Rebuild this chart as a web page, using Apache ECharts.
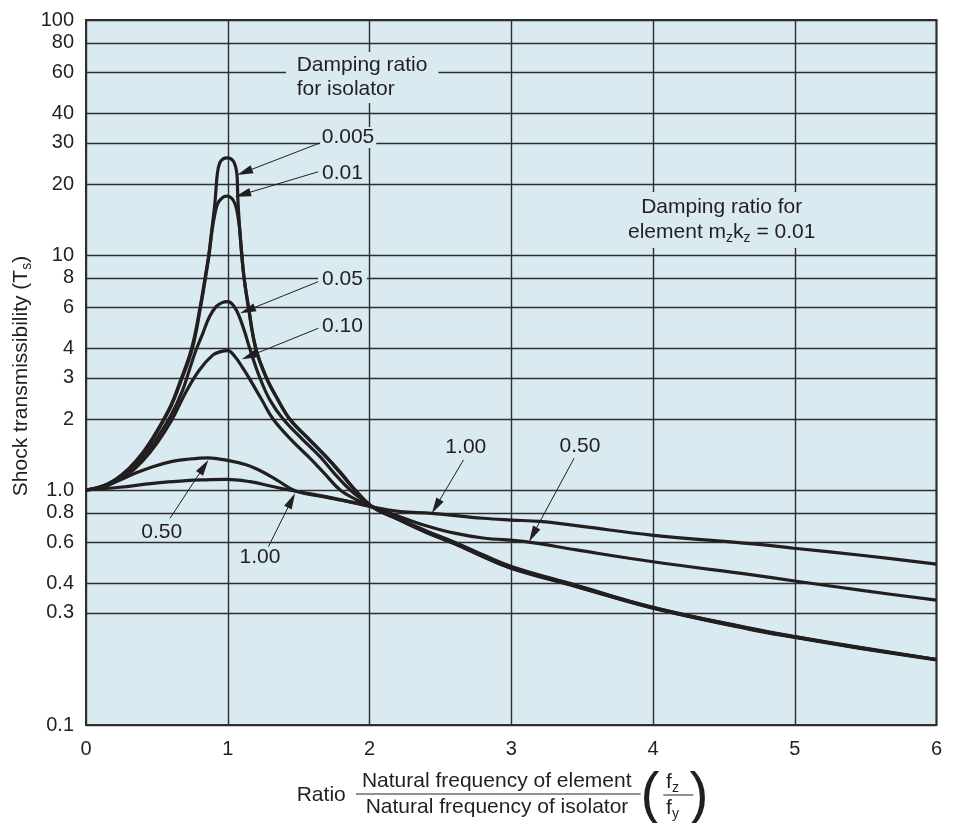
<!DOCTYPE html>
<html>
<head>
<meta charset="utf-8">
<title>Shock transmissibility</title>
<script src="https://cdn.jsdelivr.net/npm/echarts@6/dist/echarts.min.js"></script>
<style>
  html, body { margin: 0; padding: 0; background: #fff; }
  #chart { width: 954px; height: 823px; }
</style>
</head>
<body>
<div id="chart"></div>
<script>
// --- data: [ratio fz/fy, shock transmissibility Ts]
const curve005 = [[0,1.0],[0.1,1.03],[0.2,1.10],[0.3,1.23],[0.4,1.44],[0.5,1.78],[0.6,2.3],[0.66,2.85],[0.745,4.0],[0.805,6.0],[0.84,8.0],[0.866,10],[0.89,13.2],[0.91,16.8],[0.927,22.3],[0.945,24.8],[0.97,25.7],[0.995,25.9],[1.02,25.7],[1.045,24.8],[1.064,22.3],[1.071,17.5],[1.082,13.5],[1.099,10],[1.115,8],[1.146,6],[1.198,4],[1.274,3],[1.35,2.45],[1.439,2.0],[1.56,1.68],[1.698,1.38],[1.8,1.18],[1.9,1.0],[2.03,0.84],[2.2,0.75],[2.4,0.66],[2.6,0.59],[2.8,0.52],[3.0,0.464],[3.46,0.388],[4.0,0.314],[4.7,0.254],[5.0,0.236],[5.46,0.212],[6.0,0.189]];
const curve01 = [[0,1.0],[0.1,1.03],[0.2,1.10],[0.3,1.225],[0.4,1.43],[0.5,1.76],[0.6,2.27],[0.66,2.8],[0.75,4.0],[0.808,6.0],[0.843,8.0],[0.868,10],[0.89,12.8],[0.91,15.0],[0.93,16.6],[0.96,17.5],[0.993,17.8],[1.025,17.5],[1.05,16.6],[1.066,15.3],[1.082,13.2],[1.099,10],[1.115,8],[1.146,6],[1.198,4],[1.272,3],[1.35,2.44],[1.437,2.0],[1.56,1.67],[1.695,1.38],[1.8,1.17],[1.9,0.995],[2.03,0.84],[2.2,0.752],[2.4,0.662],[2.6,0.592],[2.8,0.522],[3.0,0.466],[3.46,0.389],[4.0,0.315],[4.7,0.255],[5.0,0.237],[5.46,0.213],[6.0,0.19]];
const curve05 = [[0,1.0],[0.1,1.025],[0.2,1.085],[0.3,1.19],[0.4,1.37],[0.5,1.66],[0.6,2.08],[0.682,2.66],[0.729,3.24],[0.776,3.94],[0.824,4.64],[0.871,5.46],[0.918,6.03],[0.96,6.27],[1.0,6.33],[1.04,6.1],[1.08,5.5],[1.12,4.7],[1.155,4.0],[1.227,3.0],[1.3,2.4],[1.392,2.0],[1.52,1.66],[1.651,1.386],[1.75,1.18],[1.864,1.0],[1.95,0.91],[2.03,0.84],[2.2,0.755],[2.4,0.667],[2.6,0.597],[2.8,0.527],[3.0,0.47],[3.46,0.391],[4.0,0.316],[4.7,0.256],[5.0,0.237],[5.46,0.213],[6.0,0.19]];
const curve10 = [[0,1.0],[0.1,1.02],[0.2,1.075],[0.3,1.17],[0.4,1.33],[0.5,1.58],[0.6,1.96],[0.706,2.62],[0.8,3.24],[0.894,3.75],[0.95,3.88],[1.0,3.92],[1.05,3.7],[1.1,3.35],[1.15,3.0],[1.24,2.42],[1.321,2.0],[1.45,1.63],[1.569,1.386],[1.68,1.18],[1.793,1.0],[1.9,0.915],[2.03,0.84],[2.2,0.758],[2.4,0.67],[2.6,0.6],[2.8,0.53],[3.0,0.473],[3.46,0.393],[4.0,0.317],[4.7,0.257],[5.0,0.238],[5.46,0.214],[6.0,0.19]];
const curve50 = [[0,1.0],[0.12,1.04],[0.236,1.10],[0.35,1.18],[0.472,1.256],[0.6,1.32],[0.708,1.35],[0.86,1.37],[0.99,1.34],[1.13,1.28],[1.22,1.216],[1.35,1.1],[1.48,0.99],[1.7,0.93],[2.0,0.855],[2.2,0.775],[2.4,0.705],[2.6,0.655],[2.8,0.625],[3.1,0.603],[3.46,0.556],[4.0,0.495],[4.7,0.435],[5.0,0.41],[5.5,0.372],[6.0,0.34]];
const curve100 = [[0,1.0],[0.236,1.027],[0.472,1.068],[0.708,1.096],[0.85,1.105],[0.99,1.11],[1.157,1.085],[1.3,1.04],[1.47,0.99],[1.7,0.935],[2.03,0.845],[2.216,0.81],[2.44,0.796],[2.8,0.758],[3.0,0.745],[3.2,0.735],[3.5,0.7],[3.99,0.643],[4.708,0.59],[4.995,0.565],[5.5,0.525],[6.0,0.484]];

const curveNames = ['0.005', '0.01', '0.05', '0.10', '0.50', '1.00'];
const curves = [curve005, curve01, curve05, curve10, curve50, curve100];

const yTickValues = [0.1, 0.3, 0.4, 0.6, 0.8, 1, 2, 3, 4, 6, 8, 10, 20, 30, 40, 60, 80, 100];
const yTickLabels = ['0.1', '0.3', '0.4', '0.6', '0.8', '1.0', '2', '3', '4', '6', '8', '10', '20', '30', '40', '60', '80', '100'];

// leader arrows, in data units: from label side to the curve
const arrows = [
    { from: [1.652, 30.0], to: [1.066, 21.9] },
    { from: [1.638, 22.6], to: [1.052, 17.7] },
    { from: [1.638, 7.7],  to: [1.087, 5.65] },
    { from: [1.64, 4.88],  to: [1.099, 3.6] },
    { from: [0.593, 0.758], to: [0.863, 1.342] },
    { from: [1.287, 0.574], to: [1.475, 0.968] },
    { from: [2.663, 1.342], to: [2.44, 0.796] },
    { from: [3.443, 1.364], to: [3.126, 0.603] }
];

const FONT = "'Liberation Sans', Arial, Helvetica, sans-serif";
const INK = '#231f20';
const PLOT_BG = '#d9eaf1';
const GRID_LINE = '#2e2e2e';

const subRich = {
    n: { fontSize: 21, lineHeight: 25, fontFamily: FONT, color: INK },
    s: { fontSize: 14, lineHeight: 13, verticalAlign: 'bottom', fontFamily: FONT, color: INK }
};

const chart = echarts.init(document.getElementById('chart'));

chart.setOption({
    animation: false,
    backgroundColor: '#fff',
    textStyle: { fontFamily: FONT, color: INK },
    grid: {
        left: 86, top: 20, right: 17.5, bottom: 98,
        show: true, backgroundColor: PLOT_BG, borderColor: GRID_LINE, borderWidth: 2
    },
    xAxis: {
        type: 'value', min: 0, max: 6, interval: 1,
        axisLine: { show: false },
        axisTick: { show: false },
        axisLabel: { fontSize: 20, color: INK, margin: 14, fontFamily: FONT },
        splitLine: { show: true, lineStyle: { color: GRID_LINE, width: 1.4 } }
    },
    yAxis: {
        type: 'log', logBase: 10, min: 0.1, max: 100,
        axisLine: { show: false },
        axisTick: { show: false },
        axisLabel: { show: false },
        splitLine: { show: false }
    },
    series: [
        {
            // carrier for the horizontal grid lines at the labelled values
            type: 'line',
            data: [[0, 1], [6, 1]],
            showSymbol: false,
            lineStyle: { width: 0, opacity: 0 },
            silent: true,
            z: 1,
            markLine: {
                silent: true,
                z: 1,
                symbol: ['none', 'none'],
                lineStyle: { color: GRID_LINE, width: 1.4, type: 'solid' },
                emphasis: { disabled: true },
                label: {
                    show: true, position: 'start', distance: 12,
                    formatter: p => p.name,
                    fontSize: 20, color: INK, fontFamily: FONT
                },
                data: yTickValues.map((v, i) => ({ yAxis: v, name: yTickLabels[i] }))
            }
        },
        ...curves.map((d, i) => ({
            name: curveNames[i],
            type: 'line',
            data: d,
            smooth: 0.4,
            showSymbol: false,
            silent: true,
            z: 3,
            lineStyle: { color: INK, width: 3.2 }
        }))
    ]
});

// annotations
function arrowGraphic(a) {
    const p0 = chart.convertToPixel({ gridIndex: 0 }, a.from);
    const p1 = chart.convertToPixel({ gridIndex: 0 }, a.to);
    const dx = p1[0] - p0[0], dy = p1[1] - p0[1];
    const len = Math.hypot(dx, dy);
    const ux = dx / len, uy = dy / len;
    const hl = 16, hw = 4.2;
    const bx = p1[0] - ux * hl, by = p1[1] - uy * hl;
    return [
        { type: 'line', z: 20, silent: true,
          shape: { x1: p0[0], y1: p0[1], x2: bx + ux * 2, y2: by + uy * 2 },
          style: { stroke: INK, lineWidth: 1 } },
        { type: 'polygon', z: 20, silent: true,
          shape: { points: [[p1[0], p1[1]], [bx - uy * hw, by + ux * hw], [bx + uy * hw, by - ux * hw]] },
          style: { fill: INK } }
    ];
}

function label(text, x, y, align, extra) {
    return {
        type: 'text', x: x, y: y, z: 15, silent: true,
        style: Object.assign({
            text: text, fill: INK, font: '21px ' + FONT,
            align: align || 'left', verticalAlign: 'middle'
        }, extra || {})
    };
}

const graphics = [];
arrows.forEach(a => graphics.push(...arrowGraphic(a)));

graphics.push(
    label('Damping ratio\nfor isolator', 286, 77.6, 'left',
        { lineHeight: 24, backgroundColor: PLOT_BG, padding: [0, 11, 3, 10.7] }),
    label('0.005', 320, 137.5, 'left', { backgroundColor: PLOT_BG, padding: [0, 2, 0, 1.7] }),
    label('0.01', 322, 173.5, 'left'),
    label('0.05', 318, 279.5, 'left', { backgroundColor: PLOT_BG, padding: [0, 4, 0, 4] }),
    label('0.10', 322, 326.7, 'left'),
    label('0.50', 161.7, 532.5, 'center'),
    label('1.00', 260, 557, 'center'),
    label('1.00', 465.8, 447.5, 'center'),
    label('0.50', 580, 445.8, 'center'),
    label('{n|Damping ratio for}\n{n|element m}{s|z}{n|k}{s|z}{n| = 0.01}', 721.7, 220, 'center',
        { backgroundColor: PLOT_BG, padding: [3, 6, 3, 6], rich: subRich }),
    // y axis title
    {
        type: 'text', x: 21.5, y: 376, rotation: Math.PI / 2, silent: true,
        style: {
            text: '{n|Shock transmissibility (T}{s|s}{n|)}', rich: subRich,
            align: 'center', verticalAlign: 'middle', fill: INK
        }
    },
    // x axis title: Ratio  numerator / denominator  (fz / fy)
    label('Ratio', 296.7, 795, 'left'),
    label('Natural frequency of element', 496.7, 781.7, 'center'),
    label('Natural frequency of isolator', 497, 807.7, 'center'),
    { type: 'line', silent: true, shape: { x1: 356, y1: 794, x2: 640.7, y2: 794 },
      style: { stroke: '#6d6d6d', lineWidth: 1.5 } },
    label('(', 650, 797, 'center', { font: '57px ' + FONT }),
    label(')', 699, 797, 'center', { font: '57px ' + FONT }),
    label('{n|f}{s|z}', 672.5, 782.5, 'center', { rich: subRich }),
    label('{n|f}{s|y}', 672.5, 808.3, 'center', { rich: subRich }),
    { type: 'line', silent: true, shape: { x1: 663.3, y1: 795, x2: 693.3, y2: 795 },
      style: { stroke: '#6d6d6d', lineWidth: 1.5 } }
);

chart.setOption({ graphic: { elements: graphics } });
</script>
</body>
</html>
